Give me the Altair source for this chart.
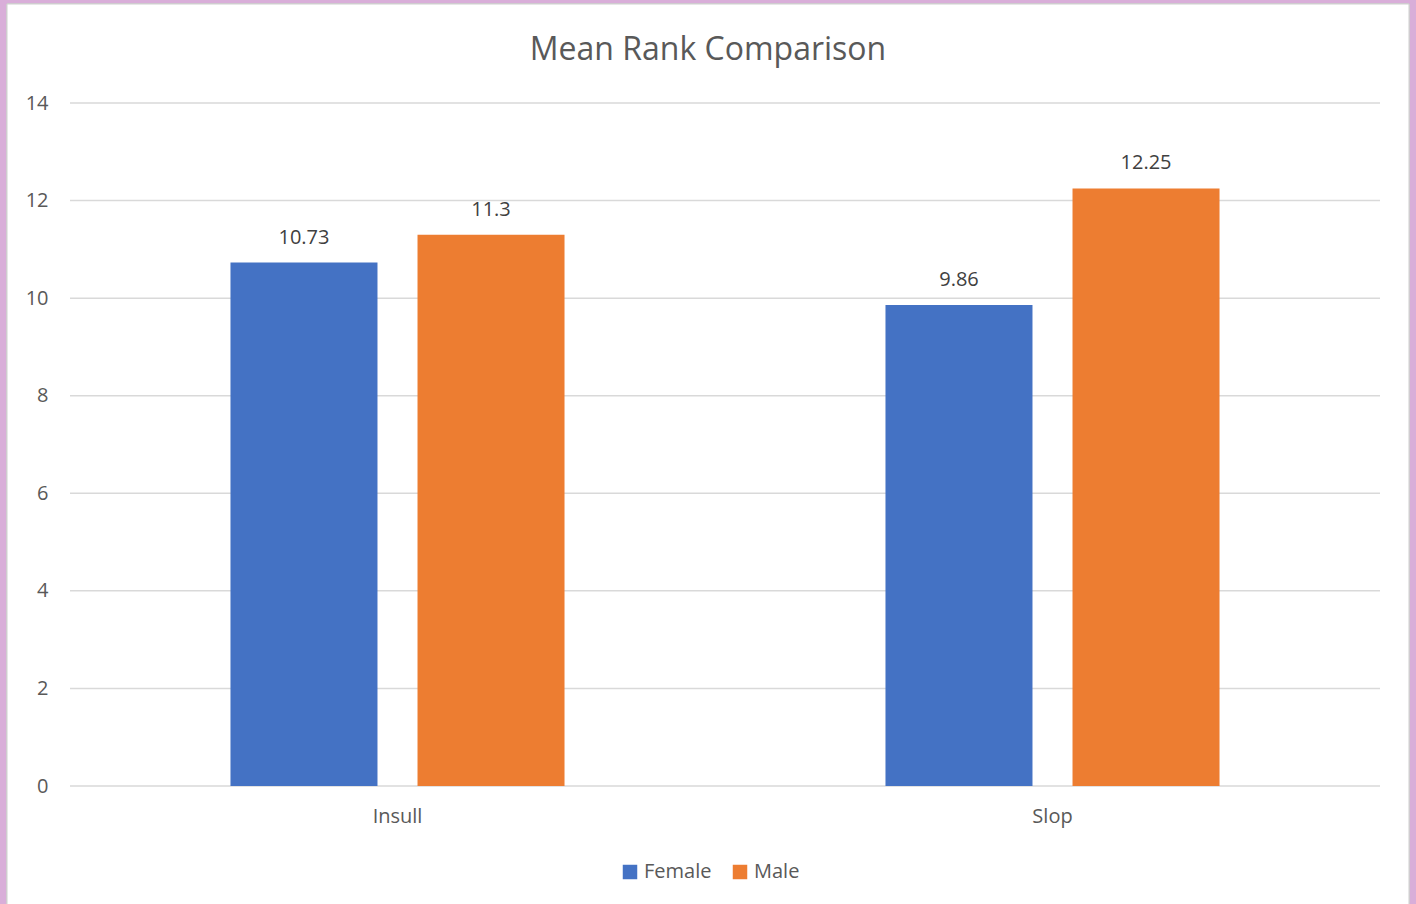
import altair as alt
import pandas as pd

categories = ["Insull", "Insull", "Slop", "Slop"]
genders = ["Female", "Male", "Female", "Male"]
values = [10.73, 11.3, 9.86, 12.25]
labels = ["10.73", "11.3", "9.86", "12.25"]
y_ticks = [0, 2, 4, 6, 8, 10, 12, 14]

df = pd.DataFrame({"cat": categories, "gender": genders, "value": values, "label": labels})
grid_df = pd.DataFrame({"tick": y_ticks})

FONT = "Open Sans"
W, H = 1310, 683
yscale = alt.Scale(domain=[0, 14])
yaxis = alt.Axis(values=y_ticks, labelFont=FONT, labelFontSize=20,
                 labelColor="#595959", labelPadding=22, ticks=False, domain=False,
                 grid=False, zindex=1)

frame = alt.Chart(df).mark_rect(color="white", stroke="#cfcfcf", strokeWidth=1).encode(
    x=alt.value(-63), x2=alt.value(1339), y=alt.value(-99), y2=alt.value(H + 130)
)

grid = alt.Chart(grid_df).mark_rule(color="#d9d9d9", strokeWidth=1.5).encode(
    y=alt.Y("tick:Q", scale=yscale, title=None, axis=yaxis),
    x=alt.value(0), x2=alt.value(W),
)

base = alt.Chart(df).encode(
    x=alt.X("cat:N", title=None, sort=["Insull", "Slop"],
            scale=alt.Scale(paddingInner=0, paddingOuter=0),
            axis=alt.Axis(labelAngle=0, labelFont=FONT, labelFontSize=20, labelColor="#595959",
                          labelPadding=20, ticks=False, domain=False, grid=False, zindex=1)),
    xOffset=alt.XOffset("gender:N", sort=["Female", "Male"],
                        scale=alt.Scale(paddingInner=0.214, paddingOuter=0.858)),
    y=alt.Y("value:Q", title=None, scale=yscale, axis=yaxis),
)

bars = base.mark_bar().encode(
    color=alt.Color("gender:N", sort=["Female", "Male"],
                    scale=alt.Scale(domain=["Female", "Male"], range=["#4472c4", "#ed7d31"]),
                    legend=alt.Legend(title=None, orient="none", direction="horizontal",
                                      legendX=550, legendY=759,
                                      symbolType="square", symbolSize=210, symbolStrokeWidth=0,
                                      labelFont=FONT, labelFontSize=20, labelColor="#595959",
                                      columnPadding=18, labelOffset=4, zindex=1))
)

text = base.mark_text(baseline="bottom", dy=-15, font=FONT, fontSize=20, color="#404040").encode(
    text="label:N"
)

chart = alt.layer(frame, grid, bars, text).properties(
    width=W, height=H,
    title=alt.TitleParams("Mean Rank Comparison", font=FONT, fontSize=32, fontWeight="normal",
                          color="#595959", anchor="middle", baseline="top",
                          offset=-63, dx=-17, zindex=1),
    background="#d9aed9",
    padding={"left": 70, "top": 103, "right": 36, "bottom": 118},
    autosize=alt.AutoSizeParams(type="none"),
).resolve_scale(y="shared").configure_view(stroke=None)

chart.save("out.html", embed_options={"renderer": "svg", "actions": False})
